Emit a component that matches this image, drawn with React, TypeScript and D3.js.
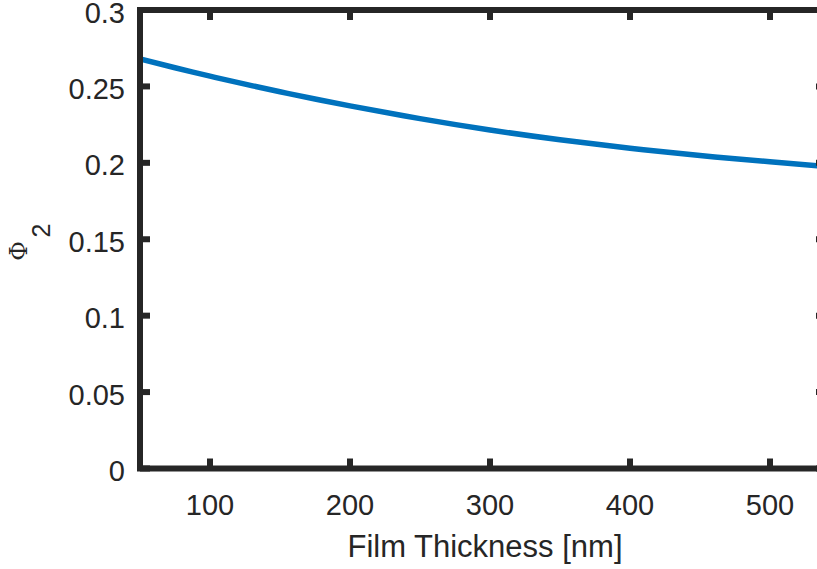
import React from "react";
import * as d3 from "d3";

// Film thickness (nm) and the corresponding volume fraction Φ₂
const thicknessNm = [50, 75, 100, 125, 150, 175, 200, 250, 300, 350, 400, 450, 500, 540];
const phi2 = [0.268, 0.2622, 0.2567, 0.2515, 0.2465, 0.2418, 0.2373, 0.2289, 0.2215, 0.2151, 0.2096, 0.2048, 0.2007, 0.1976];

const xTicks = [100, 200, 300, 400, 500];
const yTicks = [0, 0.05, 0.1, 0.15, 0.2, 0.25, 0.3];
const yTickLabels = ["0", "0.05", "0.1", "0.15", "0.2", "0.25", "0.3"];

const W = 817;
const H = 569;
const axisColor = "#262626";
const lineColor = "#0072BD";

export default function App() {
  const left = 140;
  const right = 826;
  const top = 10;
  const bottom = 468.5;

  const x = d3.scaleLinear().domain([50, 540]).range([left, right]);
  const y = d3.scaleLinear().domain([0, 0.3]).range([bottom, top]);

  const line = d3
    .line<number>()
    .x((_, i) => x(thicknessNm[i]))
    .y((d) => y(d))
    .curve(d3.curveNatural);

  const tickLen = 10;
  const font = "'Liberation Sans', Arial, Helvetica, sans-serif";

  return (
    <svg
      width={W}
      height={H}
      style={{ position: "absolute", left: 0, top: 0, background: "#fff" }}
    >
      <defs>
        <clipPath id="plotClip">
          <rect x={left} y={top} width={right - left} height={bottom - top} />
        </clipPath>
      </defs>

      <path
        d={line(phi2) ?? ""}
        fill="none"
        stroke={lineColor}
        strokeWidth={5.5}
        clipPath="url(#plotClip)"
      />

      {/* ticks on all four sides */}
      <g stroke={axisColor} strokeWidth={6}>
        {xTicks.map((t) => (
          <g key={"xt" + t}>
            <line x1={x(t)} x2={x(t)} y1={bottom} y2={bottom - tickLen} />
            <line x1={x(t)} x2={x(t)} y1={top} y2={top + tickLen} />
          </g>
        ))}
        {yTicks.map((t) => (
          <g key={"yt" + t}>
            <line x1={left} x2={left + tickLen} y1={y(t)} y2={y(t)} />
            <line x1={right} x2={right - tickLen} y1={y(t)} y2={y(t)} />
          </g>
        ))}
      </g>

      <rect
        x={left}
        y={top}
        width={right - left}
        height={bottom - top}
        fill="none"
        stroke={axisColor}
        strokeWidth={6}
      />

      <g fill={axisColor} fontFamily={font} fontSize={29}>
        {xTicks.map((t) => (
          <text key={"xl" + t} x={x(t)} y={515} textAnchor="middle">
            {t}
          </text>
        ))}
        {yTicks.map((t, i) => (
          <text key={"yl" + t} x={125} y={y(t) + 12.5} textAnchor="end">
            {yTickLabels[i]}
          </text>
        ))}
      </g>

      <text
        x={485}
        y={557}
        textAnchor="middle"
        fontFamily={font}
        fontSize={31}
        fill={axisColor}
      >
        Film Thickness [nm]
      </text>

      {/* y-axis label: Φ with subscript 2, rotated */}
      <text
        transform="translate(27,251) rotate(-90)"
        textAnchor="middle"
        fontFamily="'DejaVu Serif', serif"
        fontSize={24}
        fill={axisColor}
      >
        {"\u03A6"}
      </text>
      <text
        transform="translate(50,230.5) rotate(-90)"
        textAnchor="middle"
        fontFamily={font}
        fontSize={25}
        fill={axisColor}
      >
        2
      </text>
    </svg>
  );
}
